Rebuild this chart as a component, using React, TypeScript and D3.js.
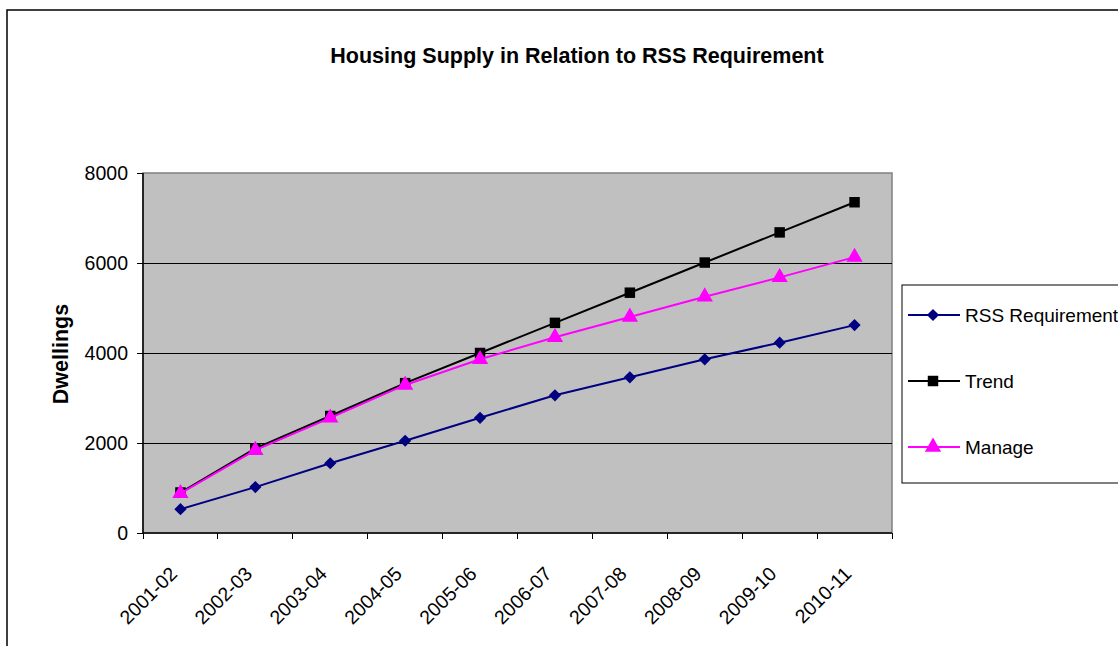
import React from 'react';
import * as d3 from 'd3';

// values
const years = ['2001-02', '2002-03', '2003-04', '2004-05', '2005-06', '2006-07', '2007-08', '2008-09', '2009-10', '2010-11'];
const rssRequirement = [530, 1020, 1550, 2050, 2560, 3060, 3460, 3860, 4230, 4620];
const trend = [900, 1880, 2600, 3330, 4000, 4670, 5340, 6010, 6680, 7350];
const manage = [880, 1840, 2560, 3290, 3860, 4350, 4800, 5250, 5680, 6130];
const yTicks = [0, 2000, 4000, 6000, 8000];

const series = [
  { name: 'RSS Requirement', values: rssRequirement, color: '#000080', marker: 'diamond' },
  { name: 'Trend', values: trend, color: '#000000', marker: 'square' },
  { name: 'Manage', values: manage, color: '#FF00FF', marker: 'triangle' },
];

const W = 1118;
const H = 646;
const plot = { left: 143, right: 892, top: 173, bottom: 533 };
const font = "'Liberation Sans', Arial, sans-serif";

const x = d3.scaleBand().domain(years).range([plot.left, plot.right]).padding(0);
const y = d3.scaleLinear().domain([0, 8000]).range([plot.bottom, plot.top]);

const symbols = {
  diamond: d3.symbol().type(d3.symbolDiamond2).size(95),
  square: d3.symbol().type(d3.symbolSquare).size(110),
  triangle: d3.symbol().type(d3.symbolTriangle).size(115),
};

const Marker = ({ kind, color, cx, cy }) => (
  <path d={symbols[kind]()} transform={`translate(${cx},${cy})`} fill={color} />
);

export default function App() {
  const line = d3
    .line<number>()
    .x((d, i) => x(years[i])! + x.bandwidth() / 2)
    .y(d => y(d));

  const boundaries = years.map(yr => x(yr)!).concat([plot.right]);

  return (
    <svg
      width={W}
      height={H}
      style={{ position: 'absolute', left: 0, top: 0, background: '#fff', fontFamily: font }}
    >
      {/* chart frame, runs off the page on the right and bottom */}
      <rect x={7} y={10} width={1300} height={800} fill="#fff" stroke="#000" strokeWidth={1.5} />

      <text x={577} y={63} textAnchor="middle" fontSize={21.5} fontWeight="bold">
        Housing Supply in Relation to RSS Requirement
      </text>

      {/* plot area */}
      <rect
        x={plot.left}
        y={plot.top}
        width={plot.right - plot.left}
        height={plot.bottom - plot.top}
        fill="#C0C0C0"
        stroke="#808080"
        strokeWidth={1.5}
      />
      {yTicks.slice(1, -1).map(t => (
        <line
          key={t}
          x1={plot.left}
          x2={plot.right}
          y1={y(t)}
          y2={y(t)}
          stroke="#000"
          strokeWidth={1}
          shapeRendering="crispEdges"
        />
      ))}

      {/* axes */}
      <line x1={plot.left} x2={plot.left} y1={plot.top} y2={plot.bottom} stroke="#000" strokeWidth={1.5} />
      <line x1={plot.left} x2={plot.right} y1={plot.bottom} y2={plot.bottom} stroke="#000" strokeWidth={1.5} />
      {yTicks.map(t => (
        <g key={t}>
          <line
            x1={plot.left - 6}
            x2={plot.left}
            y1={y(t)}
            y2={y(t)}
            stroke="#000"
            strokeWidth={1}
            shapeRendering="crispEdges"
          />
          <text x={128} y={y(t)} dy="0.35em" textAnchor="end" fontSize={19.5}>
            {t}
          </text>
        </g>
      ))}
      {boundaries.map((bx, i) => (
        <line
          key={i}
          x1={bx}
          x2={bx}
          y1={plot.bottom}
          y2={plot.bottom + 6}
          stroke="#000"
          strokeWidth={1}
          shapeRendering="crispEdges"
        />
      ))}
      {years.map(yr => (
        <text
          key={yr}
          transform={`translate(${x(yr)! + x.bandwidth() / 2 - 2},${plot.bottom + 42}) rotate(-45)`}
          textAnchor="end"
          fontSize={19.5}
        >
          {yr}
        </text>
      ))}
      <text transform={`translate(68,354) rotate(-90)`} textAnchor="middle" fontSize={21.5} fontWeight="bold">
        Dwellings
      </text>

      {/* series */}
      {series.map(s => (
        <g key={s.name}>
          <path d={line(s.values)!} fill="none" stroke={s.color} strokeWidth={2} />
          {s.values.map((v, i) => (
            <Marker key={i} kind={s.marker} color={s.color} cx={x(years[i])! + x.bandwidth() / 2} cy={y(v)} />
          ))}
        </g>
      ))}

      {/* legend */}
      <rect x={902} y={285} width={300} height={198} fill="#fff" stroke="#000" strokeWidth={1} />
      {series.map((s, i) => {
        const ly = 315 + i * 66;
        return (
          <g key={s.name}>
            <line x1={908} x2={960} y1={ly} y2={ly} stroke={s.color} strokeWidth={2} />
            <Marker kind={s.marker} color={s.color} cx={933} cy={ly} />
            <text x={965} y={ly} dy="0.35em" fontSize={19}>
              {s.name}
            </text>
          </g>
        );
      })}
    </svg>
  );
}
